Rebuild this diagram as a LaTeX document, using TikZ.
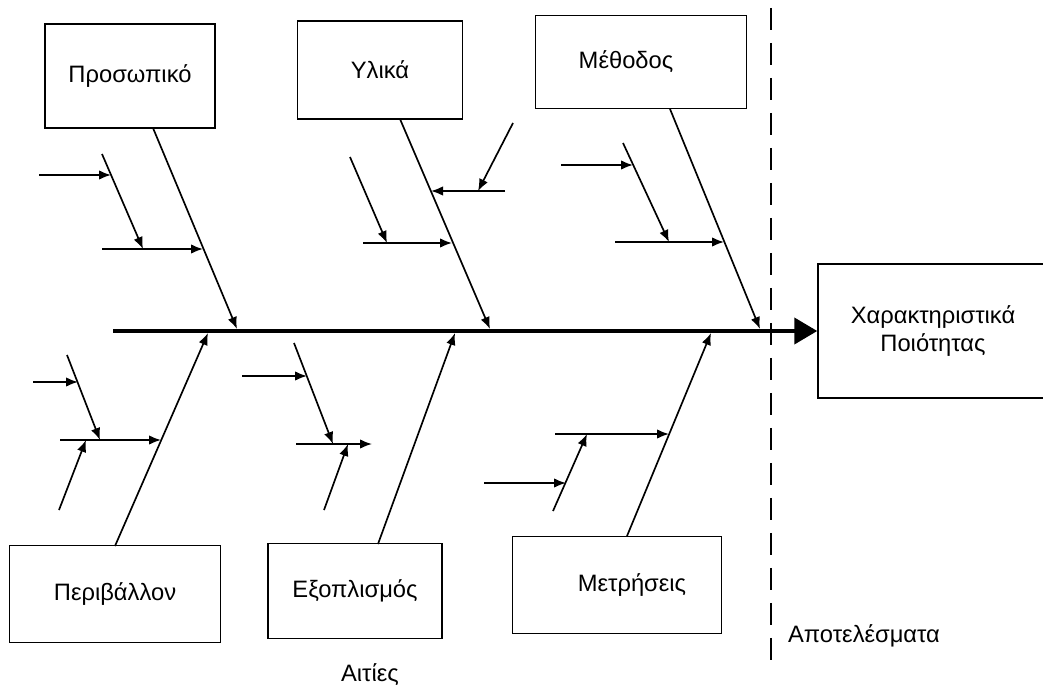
\documentclass[tikz,border=0pt]{standalone}
\usepackage{fontspec}
\setmainfont{Liberation Sans}
\usetikzlibrary{arrows.meta}
\tikzset{
	caja/.style={draw, line width=0.85pt, inner sep=0pt, align=center, font=\fontsize{13.5}{16}\selectfont},
	rotulo/.style={font=\fontsize{13.5}{16}\selectfont},
	hueso/.style={line width=0.95pt, -{Latex[length=0.24cm,width=0.19cm]}},
	espina/.style={line width=2.3pt, -{Triangle[length=0.46cm,width=0.52cm]}},
	limite/.style={line width=0.7pt, dash pattern=on 0.44cm off 0.26cm}
}

\begin{document}
\begin{tikzpicture}[x=0.02cm, y=-0.02cm]
	\useasboundingbox (0,0) rectangle (1043,689);
	\clip (0,0) rectangle (1043,689);

	%Cajas de las causas (arriba)
	\node[caja, minimum width=3.4cm, minimum height=2.08cm] (pros) at (130,76) {Προσωπικό};
	\node[caja, minimum width=3.3cm, minimum height=1.96cm] (ylik) at (380,70) {Υλικά};
	\node[caja, minimum width=4.22cm, minimum height=1.86cm] (meth) at (641,62) {Μέθοδος\hspace{0.6cm}};

	%Cajas de las causas (abajo)
	\node[caja, minimum width=4.22cm, minimum height=1.94cm] (peri) at (115,594) {Περιβάλλον};
	\node[caja, minimum width=3.48cm, minimum height=1.9cm] (exop) at (355,591) {Εξοπλισμός};
	\node[caja, minimum width=4.18cm, minimum height=1.94cm] (metr) at (617,585) {\hspace{0.6cm}Μετρήσεις};

	%Efecto (la caja sigue fuera del borde)
	\node[caja, minimum width=4.6cm, minimum height=2.68cm] (efecto) at (933,331) {Χαρακτηριστικά\\Ποιότητας};

	%Espina principal
	\coordinate (s0) at (113,331);
	\draw[espina] (s0) -- (efecto.west);

	%Linea de separacion
	\coordinate (l0) at (771,8);
	\coordinate (l1) at (771,663);
	\draw[limite] (l0) -- (l1);

	\node[rotulo] (causas) at (370,675) {Αιτίες};
	\node[rotulo] (efectos) at (864,636) {Αποτελέσματα};

	%Προσωπικό
	\coordinate (p1) at (153,128);
	\coordinate (p2) at (237,329);
	\draw[hueso] (p1) -- (p2);
	\coordinate (p3) at (102,154);
	\coordinate (p4) at (143,249);
	\draw[hueso] (p3) -- (p4);
	\coordinate (p5) at (102,249);
	\coordinate (p6) at (203,249);
	\draw[hueso] (p5) -- (p6);
	\coordinate (p7) at (39,175);
	\coordinate (p8) at (111,175);
	\draw[hueso] (p7) -- (p8);

	%Υλικά
	\coordinate (y1) at (400,119);
	\coordinate (y2) at (490,329);
	\draw[hueso] (y1) -- (y2);
	\coordinate (y3) at (350,157);
	\coordinate (y4) at (387,243);
	\draw[hueso] (y3) -- (y4);
	\coordinate (y5) at (363,243);
	\coordinate (y6) at (452,243);
	\draw[hueso] (y5) -- (y6);
	\coordinate (y7) at (505,191);
	\coordinate (y8) at (431,191);
	\draw[hueso] (y7) -- (y8);
	\coordinate (y9) at (513,123);
	\coordinate (y10) at (478,191);
	\draw[hueso] (y9) -- (y10);

	%Μέθοδος
	\coordinate (m1) at (670,109);
	\coordinate (m2) at (760,329);
	\draw[hueso] (m1) -- (m2);
	\coordinate (m3) at (623,143);
	\coordinate (m4) at (669,242);
	\draw[hueso] (m3) -- (m4);
	\coordinate (m5) at (561,165);
	\coordinate (m6) at (633,165);
	\draw[hueso] (m5) -- (m6);
	\coordinate (m7) at (615,242);
	\coordinate (m8) at (724,242);
	\draw[hueso] (m7) -- (m8);

	%Περιβάλλον
	\coordinate (e1) at (115,546);
	\coordinate (e2) at (208,333);
	\draw[hueso] (e1) -- (e2);
	\coordinate (e3) at (60,440);
	\coordinate (e4) at (161,440);
	\draw[hueso] (e3) -- (e4);
	\coordinate (e5) at (67,355);
	\coordinate (e6) at (100,440);
	\draw[hueso] (e5) -- (e6);
	\coordinate (e7) at (33,382);
	\coordinate (e8) at (78,382);
	\draw[hueso] (e7) -- (e8);
	\coordinate (e9) at (59,510);
	\coordinate (e10) at (86,440);
	\draw[hueso] (e9) -- (e10);

	%Εξοπλισμός
	\coordinate (x1) at (378,544);
	\coordinate (x2) at (455,333);
	\draw[hueso] (x1) -- (x2);
	\coordinate (x3) at (294,343);
	\coordinate (x4) at (333,444);
	\draw[hueso] (x3) -- (x4);
	\coordinate (x5) at (242,376);
	\coordinate (x6) at (307,376);
	\draw[hueso] (x5) -- (x6);
	\coordinate (x7) at (296,444);
	\coordinate (x8) at (372,444);
	\draw[hueso] (x7) -- (x8);
	\coordinate (x9) at (324,510);
	\coordinate (x10) at (348,444);
	\draw[hueso] (x9) -- (x10);

	%Μετρήσεις
	\coordinate (r1) at (627,536);
	\coordinate (r2) at (711,333);
	\draw[hueso] (r1) -- (r2);
	\coordinate (r3) at (555,434);
	\coordinate (r4) at (669,434);
	\draw[hueso] (r3) -- (r4);
	\coordinate (r5) at (553,511);
	\coordinate (r6) at (587,434);
	\draw[hueso] (r5) -- (r6);
	\coordinate (r7) at (484,483);
	\coordinate (r8) at (566,483);
	\draw[hueso] (r7) -- (r8);
\end{tikzpicture}
\end{document}
